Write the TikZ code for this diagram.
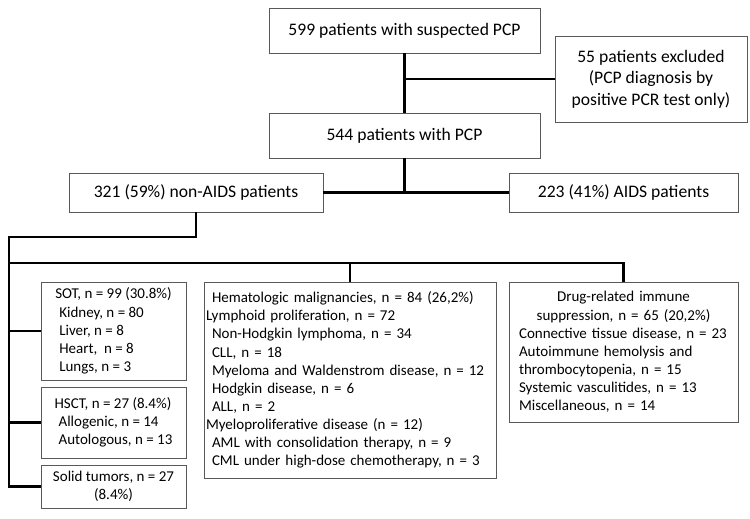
\documentclass[tikz,border=0pt]{standalone}
\usepackage{fontspec}
\setmainfont{Carlito}
\begin{document}
\begin{tikzpicture}[x=1pt, y=-1pt, line join=miter, font=\fontsize{17.6}{21.5}\selectfont]
	\tikzset{box/.style={draw=black!65, line width=0.8pt, inner sep=0pt, outer sep=0pt, anchor=north west, align=center},
		list/.style={box, font=\fontsize{15}{18.1}\selectfont},
		link/.style={line width=2.4pt}}
	\useasboundingbox (0,0) rectangle (750,519);
	% upper part
	\node[box, minimum width=271pt, minimum height=45pt] (susp) at (269,8) {599 patients with suspected PCP};
	\node[box, minimum width=192pt, minimum height=86pt] (excl) at (555,36) {55 patients excluded\\(PCP diagnosis by\\positive PCR test only)};
	\node[box, minimum width=271pt, minimum height=45pt] (pcp) at (269,113) {544 patients with PCP};
	\node[box, minimum width=254pt, minimum height=39pt] (nonaids) at (69,173) {321 (59\%) non-AIDS patients};
	\node[box, minimum width=229pt, minimum height=39pt] (aids) at (509,173) {223 (41\%) AIDS patients};
	% lower part
	\node[list, align=left, minimum width=145pt, minimum height=98pt] (sot) at (41,282) {SOT, n = 99 (30.8\%)\\
		\hspace*{4pt}Kidney, n = 80\\
		\hspace*{4pt}Liver, n = 8\\
		\hspace*{4pt}Heart,\ \ n = 8\\
		\hspace*{4pt}Lungs, n = 3};
	\node[list, align=left, minimum width=145pt, minimum height=71pt] (hsct) at (41,387) {HSCT, n = 27 (8.4\%)\\
		\hspace*{4pt}Allogenic, n = 14\\
		\hspace*{4pt}Autologous, n = 13};
	\node[list, minimum width=145pt, minimum height=43pt] (solid) at (41,465) {Solid tumors, n = 27\\(8.4\%)};
	\node[list, align=left, inner xsep=2pt, text width=288pt, minimum height=196pt] (hem) at (204,282) {\hspace*{6pt}Hematologic malignancies, n = 84 (26,2\%)\\
		Lymphoid proliferation, n = 72\\
		\hspace*{6pt}Non-Hodgkin lymphoma, n = 34\\
		\hspace*{6pt}CLL, n = 18\\
		\hspace*{6pt}Myeloma and Waldenstrom disease, n = 12\\
		\hspace*{6pt}Hodgkin disease, n = 6\\
		\hspace*{6pt}ALL, n = 2\\
		Myeloproliferative disease (n = 12)\\
		\hspace*{6pt}AML with consolidation therapy, n = 9\\
		\hspace*{6pt}CML under high-dose chemotherapy, n = 3};
	\node[list, align=left, inner xsep=10pt, text width=209pt, minimum height=140pt] (drug) at (509,282) {\makebox[\linewidth]{Drug-related immune}\\
		\makebox[\linewidth]{suppression, n = 65 (20,2\%)}\\
		Connective tissue disease, n = 23\\
		Autoimmune hemolysis and\\
		thrombocytopenia, n = 15\\
		Systemic vasculitides, n = 13\\
		Miscellaneous, n = 14};
	\coordinate (split) at (9,237);
	\coordinate (bus) at (9,263);
	% connectors
	\draw[link] (susp.south) -- (pcp.north);
	\draw[link] (susp.south |- excl.west) -- (excl.west);
	\draw[link] (pcp.south) -- (pcp.south |- nonaids.east);
	\draw[link] (nonaids.east) -- (aids.west);
	\draw[link] (nonaids.south) |- (split) |- (solid.west);
	\draw[link] (sot.west -| split) -- (sot.west);
	\draw[link] (hsct.west -| split) -- (hsct.west);
	\draw[link] (bus) -| (drug.north);
	\draw[link] (hem.north |- bus) -- (hem.north);
\end{tikzpicture}
\end{document}
